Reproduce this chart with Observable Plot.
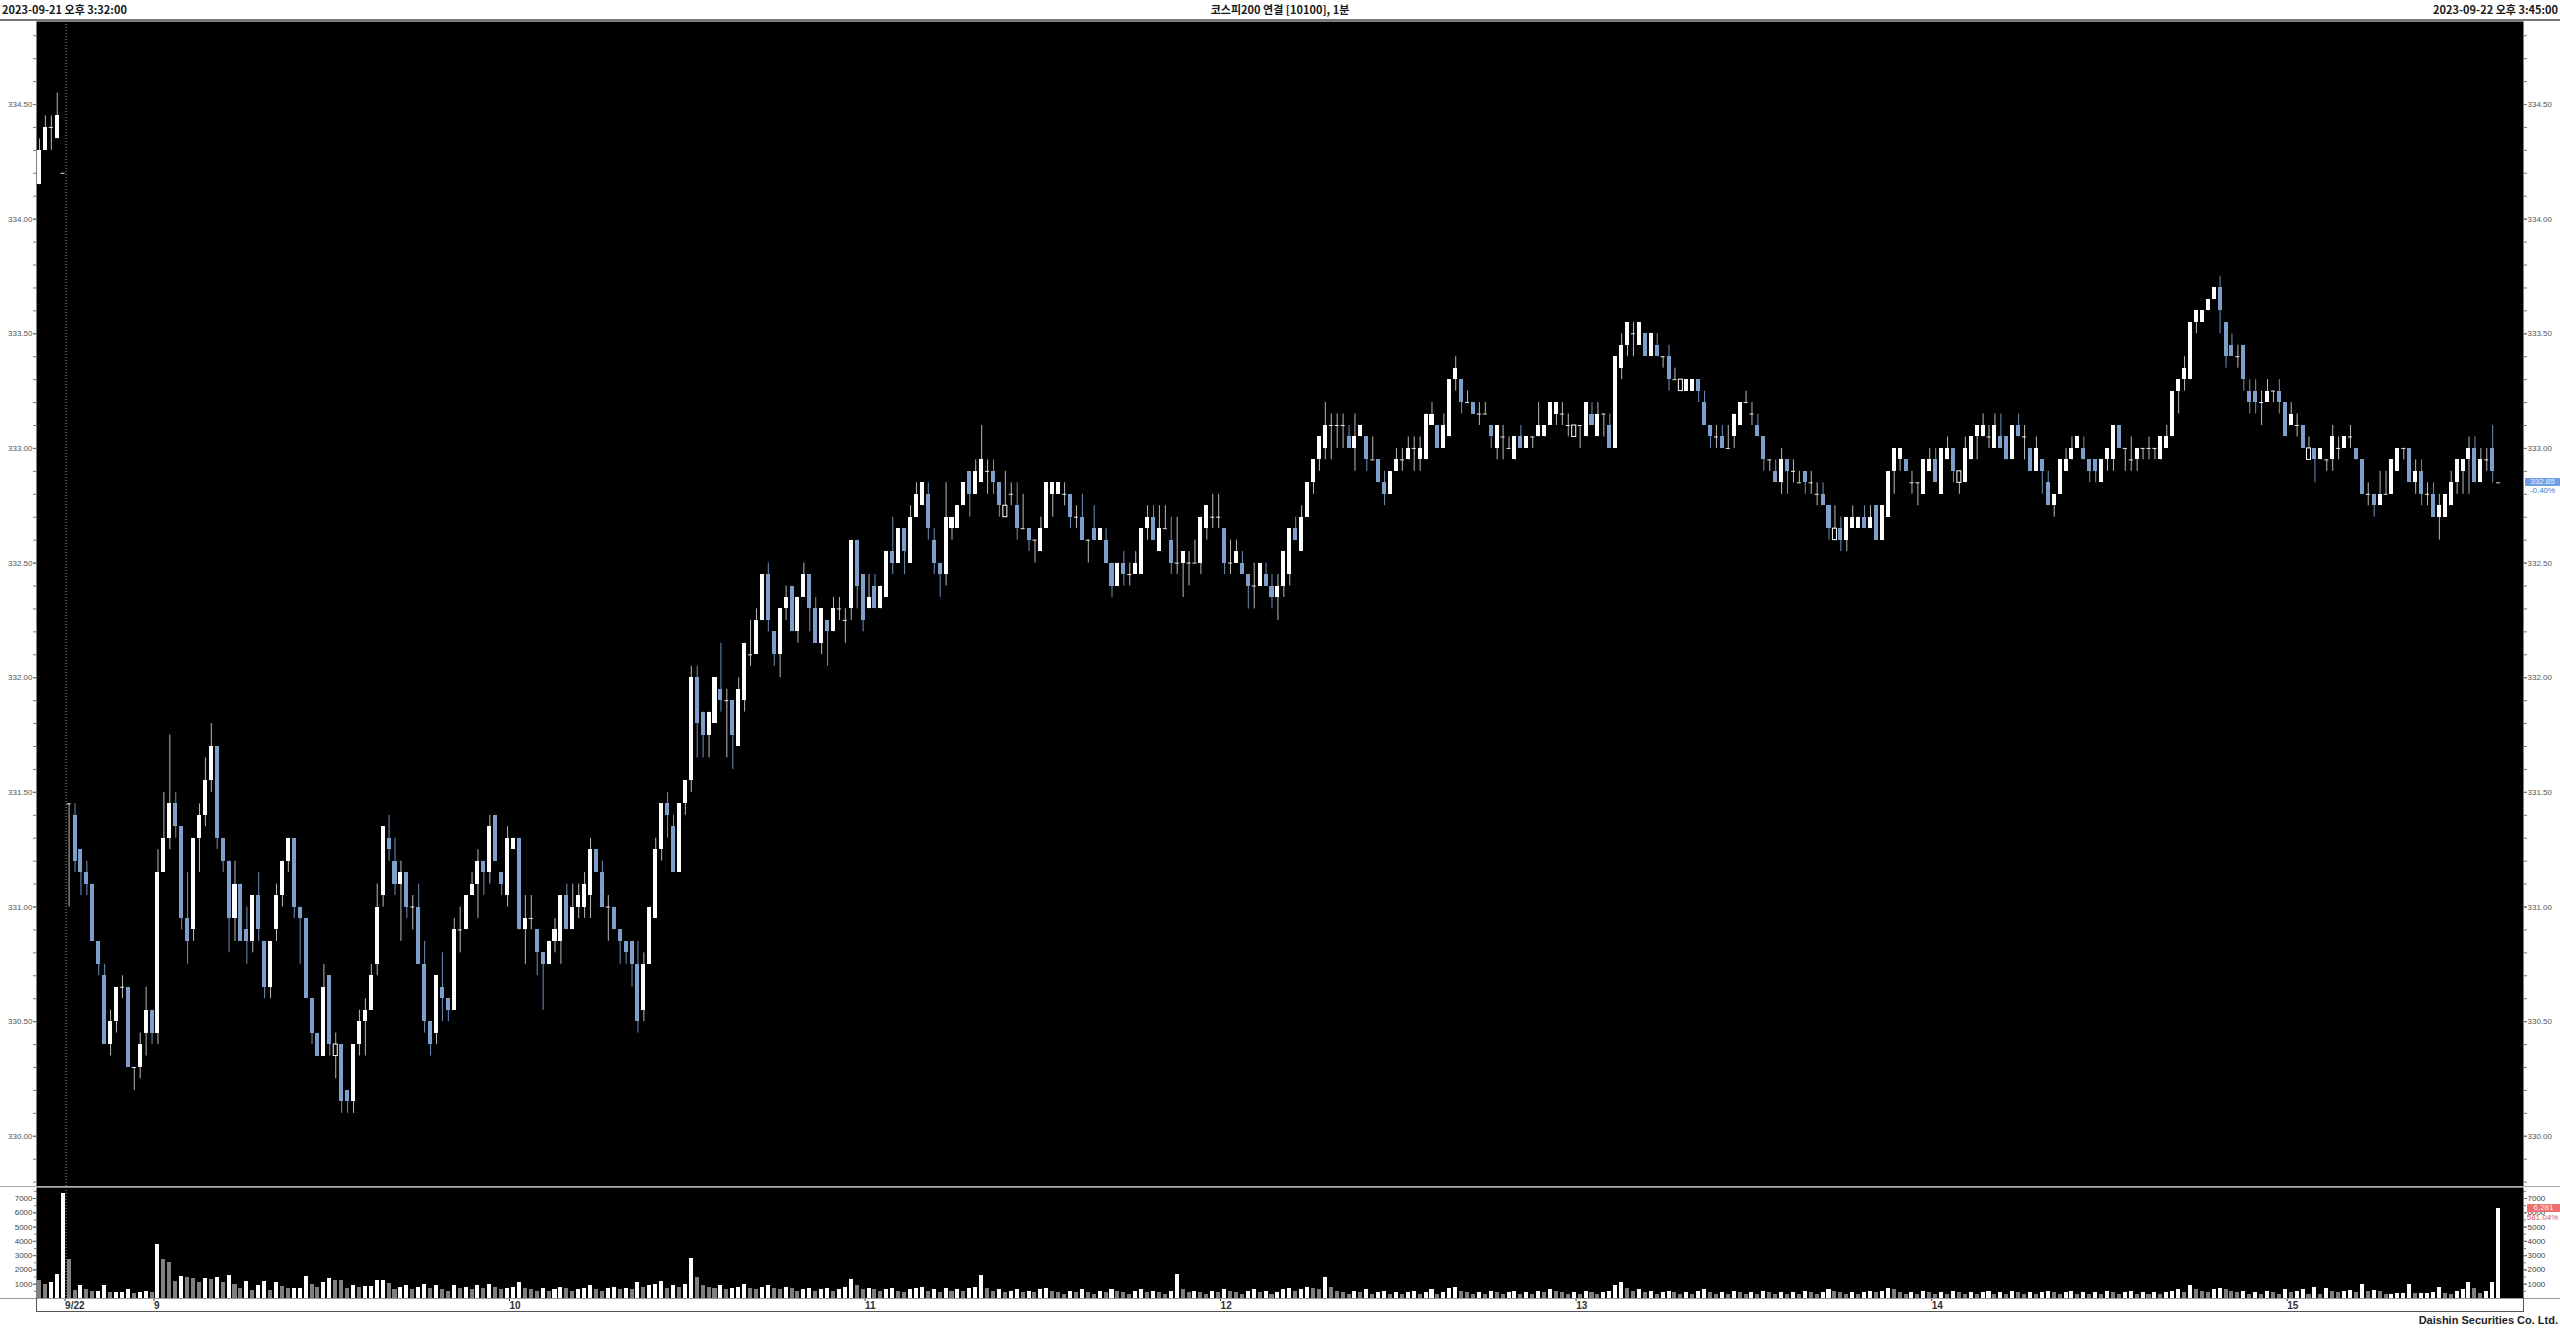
<!DOCTYPE html>
<html><head><meta charset="utf-8">
<script src="https://cdn.jsdelivr.net/npm/d3@7"></script>
<script src="https://cdn.jsdelivr.net/npm/@observablehq/plot@0.6"></script>
<style>
html,body{margin:0;padding:0;background:#fff;width:2560px;height:1328px;overflow:hidden;}
body{position:relative;font-family:"Liberation Sans",Arial,sans-serif;}
.hdr{position:absolute;top:3px;font-size:11px;font-weight:bold;color:#1a1a1a;font-family:"Noto Sans CJK KR","Liberation Sans",sans-serif;white-space:nowrap;line-height:12px;}
.badge{position:absolute;font-size:8px;line-height:8px;white-space:nowrap;font-family:"Liberation Sans",Arial,sans-serif;}
</style></head><body>
<script>
// ---------------- DATA ----------------
const headerLeft = "2023-09-21 오후 3:32:00";
const headerTitle = "코스피200 연결 [10100], 1분";
const headerRight = "2023-09-22 오후 3:45:00";
const footerText = "Daishin Securities Co. Ltd.";

const open = [
334.15,334.30,334.40,334.35,334.20,331.45,331.40,331.25,331.15,331.10,
330.85,330.70,330.40,330.50,330.65,330.65,330.30,330.30,330.45,330.55,
330.45,331.15,331.30,331.45,331.35,330.95,330.90,331.30,331.40,331.55,
331.70,331.30,331.20,330.95,331.10,330.90,330.85,331.05,330.85,330.65,
330.90,331.05,331.20,331.30,331.00,330.95,330.60,330.45,330.35,330.70,
330.35,330.40,330.20,330.15,330.40,330.50,330.55,330.75,331.05,331.30,
331.20,331.10,331.15,331.00,331.00,330.75,330.50,330.45,330.65,330.60,
330.55,330.90,330.90,331.05,331.10,331.20,331.15,331.40,331.15,331.05,
331.25,331.30,330.90,330.95,330.90,330.80,330.75,330.85,330.85,331.05,
330.90,331.00,331.00,331.05,331.25,331.15,331.00,331.00,330.90,330.85,
330.85,330.75,330.55,330.75,330.95,331.25,331.45,331.35,331.15,331.45,
331.55,332.00,331.85,331.75,331.80,331.95,331.90,331.90,331.70,331.90,
332.10,332.10,332.25,332.45,332.20,332.10,332.30,332.40,332.20,332.35,
332.45,332.30,332.15,332.25,332.20,332.30,332.25,332.30,332.60,332.45,
332.30,332.40,332.30,332.35,332.55,332.50,332.65,332.50,332.70,332.75,
332.80,332.60,332.50,332.45,332.65,332.65,332.75,332.90,332.80,332.85,
332.90,332.90,332.85,332.70,332.80,332.75,332.65,332.65,332.60,332.55,
332.65,332.80,332.80,332.80,332.80,332.70,332.70,332.60,332.65,332.60,
332.60,332.50,332.40,332.50,332.45,332.45,332.45,332.65,332.70,332.55,
332.65,332.60,332.50,332.50,332.50,332.50,332.50,332.65,332.70,332.70,
332.65,332.50,332.50,332.50,332.45,332.40,332.40,332.45,332.40,332.35,
332.40,332.45,332.65,332.55,332.70,332.85,332.95,333.00,333.10,333.10,
333.10,333.05,333.00,333.05,333.05,332.95,332.95,332.85,332.80,332.90,
332.95,332.95,333.00,332.95,332.95,333.10,333.10,333.00,333.05,333.30,
333.30,333.20,333.20,333.15,333.15,333.10,333.00,333.05,333.00,332.95,
333.05,333.00,333.05,333.05,333.05,333.10,333.15,333.15,333.10,333.05,
333.10,333.05,333.15,333.05,333.15,333.10,333.00,333.35,333.45,333.50,
333.45,333.50,333.40,333.45,333.40,333.40,333.30,333.25,333.25,333.25,
333.30,333.20,333.10,333.05,333.05,333.00,333.05,333.10,333.20,333.15,
333.10,333.05,332.95,332.90,332.85,332.95,332.90,332.85,332.90,332.85,
332.80,332.80,332.75,332.60,332.65,332.60,332.65,332.65,332.70,332.65,
332.75,332.60,332.70,332.90,332.95,332.95,332.85,332.85,332.80,332.90,
332.95,332.80,332.95,333.00,332.85,332.85,332.95,333.05,333.05,333.05,
333.00,333.05,333.05,332.95,333.10,333.05,333.00,332.90,332.95,332.85,
332.75,332.80,332.90,332.95,333.00,333.00,332.95,332.95,332.85,332.95,
332.95,333.10,333.00,332.95,332.95,333.00,333.00,333.00,332.95,333.00,
333.05,333.25,333.30,333.30,333.55,333.55,333.60,333.65,333.70,333.55,
333.45,333.40,333.45,333.25,333.25,333.20,333.20,333.25,333.25,333.20,
333.10,333.10,333.10,332.95,333.00,332.95,332.95,332.95,333.00,333.00,
333.05,333.00,332.95,332.80,332.80,332.75,332.80,332.80,332.90,333.00,
333.00,332.85,332.90,332.80,332.80,332.70,332.70,332.75,332.85,332.90,
332.95,333.00,332.85,332.95,333.00,332.85];

const high = [
334.35,334.45,334.45,334.55,334.20,331.45,331.45,331.25,331.20,331.10,
330.85,330.75,330.55,330.65,330.70,330.65,330.30,330.45,330.65,330.55,
331.25,331.50,331.75,331.50,331.35,331.15,331.30,331.45,331.65,331.80,
331.70,331.30,331.20,331.20,331.10,331.00,331.05,331.15,330.85,330.85,
331.10,331.20,331.30,331.30,331.00,330.95,330.60,330.45,330.75,330.70,
330.45,330.40,330.20,330.40,330.55,330.60,330.75,331.10,331.35,331.40,
331.30,331.20,331.15,331.05,331.10,330.85,330.50,330.70,330.80,330.60,
330.95,331.00,331.05,331.15,331.25,331.20,331.40,331.40,331.15,331.35,
331.30,331.30,331.05,331.05,330.90,330.80,330.85,330.95,331.05,331.10,
331.10,331.10,331.15,331.30,331.25,331.20,331.05,331.00,330.90,330.85,
330.85,330.85,330.80,331.00,331.30,331.45,331.50,331.40,331.45,331.55,
332.05,332.05,331.85,331.85,332.00,332.15,331.95,331.90,332.00,332.15,
332.25,332.30,332.45,332.50,332.20,332.30,332.40,332.40,332.35,332.50,
332.45,332.35,332.30,332.25,332.35,332.35,332.30,332.60,332.60,332.45,
332.45,332.45,332.40,332.55,332.70,332.65,332.65,332.75,332.85,332.85,
332.85,332.65,332.50,332.85,332.70,332.75,332.85,332.90,332.95,333.10,
332.95,332.95,332.85,332.90,332.85,332.85,332.80,332.65,332.60,332.70,
332.85,332.85,332.85,332.85,332.80,332.75,332.80,332.60,332.75,332.65,
332.65,332.50,332.50,332.55,332.50,332.55,332.65,332.75,332.75,332.75,
332.75,332.70,332.70,332.55,332.55,332.60,332.70,332.75,332.80,332.80,
332.65,332.60,332.60,332.55,332.45,332.50,332.50,332.50,332.45,332.45,
332.55,332.65,332.70,332.75,332.85,332.95,333.05,333.20,333.15,333.15,
333.15,333.10,333.15,333.10,333.05,333.05,332.95,332.90,332.90,333.00,
333.00,333.05,333.05,333.05,333.15,333.20,333.10,333.15,333.30,333.40,
333.30,333.25,333.20,333.20,333.20,333.10,333.10,333.10,333.05,333.05,
333.10,333.05,333.05,333.20,333.10,333.20,333.20,333.20,333.15,333.10,
333.10,333.20,333.20,333.20,333.15,333.15,333.40,333.50,333.55,333.55,
333.55,333.50,333.50,333.50,333.40,333.45,333.35,333.30,333.30,333.30,
333.30,333.25,333.10,333.10,333.10,333.10,333.15,333.20,333.25,333.20,
333.15,333.05,332.95,332.95,333.00,332.95,332.95,332.90,332.90,332.90,
332.85,332.85,332.75,332.75,332.70,332.70,332.75,332.70,332.75,332.75,
332.75,332.75,332.90,333.00,333.00,332.95,332.90,332.85,332.95,333.00,
333.00,333.00,333.05,333.00,332.90,333.05,333.05,333.10,333.15,333.10,
333.15,333.15,333.05,333.10,333.15,333.10,333.00,333.05,332.95,332.90,
332.80,332.95,333.00,333.05,333.05,333.05,332.95,332.95,332.95,333.00,
333.10,333.10,333.00,333.05,333.00,333.00,333.05,333.00,333.05,333.10,
333.25,333.30,333.40,333.55,333.60,333.60,333.65,333.70,333.75,333.55,
333.50,333.45,333.45,333.30,333.30,333.25,333.30,333.25,333.30,333.20,
333.20,333.15,333.10,333.05,333.00,333.00,332.95,333.10,333.05,333.05,
333.10,333.00,332.95,332.85,332.80,332.90,332.90,332.95,333.00,333.00,
333.00,332.95,332.95,332.85,332.85,332.80,332.80,332.90,332.95,332.95,
333.05,333.05,333.00,333.00,333.10,332.85];

const low = [
334.15,334.30,334.30,334.35,334.20,331.00,331.15,331.05,331.05,330.85,
330.70,330.40,330.35,330.45,330.60,330.30,330.20,330.25,330.35,330.40,
330.40,331.15,331.25,331.30,330.90,330.75,330.85,331.15,331.35,331.50,
331.25,331.15,330.80,330.85,330.85,330.75,330.80,330.85,330.60,330.60,
330.85,331.00,331.15,330.95,330.75,330.60,330.40,330.35,330.35,330.35,
330.25,330.10,330.10,330.10,330.35,330.35,330.55,330.70,331.00,331.20,
331.05,330.85,330.95,330.90,330.75,330.45,330.35,330.40,330.50,330.50,
330.55,330.80,330.90,331.05,330.95,331.05,331.10,331.20,331.05,331.00,
331.25,330.90,330.75,330.90,330.70,330.55,330.75,330.80,330.75,330.90,
330.90,330.95,330.95,330.95,331.15,331.00,330.85,330.90,330.75,330.75,
330.65,330.45,330.50,330.75,330.95,331.20,331.30,331.15,331.15,331.40,
331.50,331.65,331.65,331.65,331.80,331.85,331.65,331.60,331.70,331.85,
332.05,332.10,332.25,332.20,332.05,332.00,332.25,332.20,332.15,332.35,
332.20,332.15,332.10,332.05,332.20,332.25,332.15,332.25,332.30,332.20,
332.30,332.30,332.30,332.35,332.45,332.50,332.45,332.50,332.70,332.75,
332.60,332.45,332.35,332.40,332.60,332.65,332.75,332.70,332.80,332.85,
332.80,332.80,332.70,332.70,332.75,332.60,332.65,332.55,332.50,332.55,
332.65,332.70,332.80,332.75,332.65,332.65,332.60,332.50,332.60,332.60,
332.50,332.35,332.40,332.40,332.40,332.45,332.45,332.60,332.60,332.55,
332.65,332.45,332.45,332.35,332.40,332.50,332.45,332.60,332.65,332.65,
332.45,332.45,332.50,332.45,332.30,332.30,332.40,332.40,332.30,332.25,
332.35,332.40,332.60,332.55,332.70,332.80,332.90,332.95,332.95,333.00,
333.00,333.00,332.90,333.05,332.90,332.95,332.85,332.75,332.80,332.90,
332.90,332.95,332.90,332.90,332.95,333.10,333.00,333.00,333.05,333.25,
333.15,333.20,333.15,333.10,333.15,333.00,332.95,332.95,333.00,332.95,
333.00,333.00,333.00,333.05,333.05,333.10,333.10,333.10,333.05,333.05,
333.00,333.05,333.10,333.05,333.05,333.00,333.00,333.30,333.40,333.40,
333.45,333.40,333.40,333.40,333.35,333.25,333.30,333.25,333.25,333.25,
333.20,333.10,333.00,333.00,333.00,333.00,333.00,333.10,333.20,333.10,
333.05,332.90,332.90,332.85,332.80,332.80,332.85,332.85,332.80,332.80,
332.75,332.75,332.60,332.60,332.55,332.55,332.65,332.65,332.65,332.65,
332.60,332.60,332.70,332.80,332.90,332.90,332.80,332.75,332.80,332.90,
332.85,332.80,332.95,332.85,332.80,332.85,332.95,332.95,333.05,333.00,
333.00,333.00,332.95,332.95,333.05,332.95,332.90,332.90,332.80,332.75,
332.70,332.80,332.90,332.95,333.00,332.95,332.85,332.85,332.85,332.90,
332.90,333.00,332.90,332.90,332.90,332.95,332.95,332.95,332.95,333.00,
333.05,333.15,333.25,333.30,333.50,333.55,333.60,333.65,333.50,333.35,
333.40,333.35,333.25,333.15,333.15,333.10,333.20,333.20,333.15,333.05,
333.10,333.05,333.00,332.95,332.85,332.95,332.90,332.90,332.95,333.00,
333.00,332.95,332.80,332.75,332.70,332.75,332.80,332.80,332.90,332.95,
332.85,332.80,332.75,332.75,332.70,332.60,332.70,332.75,332.80,332.80,
332.80,332.85,332.85,332.90,332.85,332.85];

const close = [
334.30,334.40,334.40,334.45,334.20,331.45,331.20,331.15,331.10,330.85,
330.75,330.40,330.50,330.65,330.65,330.30,330.30,330.40,330.55,330.45,
331.15,331.30,331.45,331.35,330.95,330.85,331.30,331.40,331.55,331.70,
331.30,331.20,330.95,331.10,330.85,330.85,331.05,330.90,330.65,330.85,
331.05,331.20,331.30,331.00,330.95,330.60,330.45,330.35,330.65,330.40,
330.40,330.15,330.15,330.40,330.50,330.55,330.70,331.00,331.35,331.25,
331.10,331.15,331.00,331.00,330.75,330.50,330.40,330.70,330.60,330.55,
330.90,330.90,331.05,331.10,331.20,331.15,331.35,331.20,331.10,331.30,
331.30,330.90,330.95,330.95,330.80,330.75,330.85,330.90,331.05,330.90,
331.00,331.05,331.10,331.25,331.15,331.00,331.00,330.90,330.85,330.80,
330.75,330.50,330.75,331.00,331.25,331.45,331.40,331.15,331.45,331.55,
332.00,331.80,331.75,331.85,332.00,331.90,331.90,331.75,331.95,332.15,
332.10,332.25,332.45,332.25,332.10,332.30,332.35,332.20,332.35,332.45,
332.30,332.15,332.30,332.20,332.30,332.30,332.25,332.60,332.40,332.25,
332.35,332.30,332.40,332.55,332.50,332.65,332.55,332.70,332.80,332.85,
332.65,332.50,332.45,332.70,332.70,332.75,332.85,332.80,332.90,332.95,
332.90,332.85,332.75,332.75,332.80,332.65,332.65,332.60,332.60,332.65,
332.85,332.85,332.85,332.80,332.70,332.70,332.60,332.60,332.60,332.65,
332.50,332.40,332.50,332.45,332.45,332.50,332.65,332.70,332.60,332.65,
332.65,332.50,332.50,332.55,332.50,332.50,332.70,332.75,332.70,332.70,
332.50,332.50,332.55,332.45,332.40,332.40,332.50,332.40,332.35,332.40,
332.55,332.65,332.60,332.70,332.85,332.95,333.05,333.10,333.10,333.10,
333.10,333.00,333.05,333.10,332.95,332.95,332.85,332.80,332.90,332.95,
332.95,333.00,333.00,333.00,333.15,333.15,333.00,333.10,333.30,333.35,
333.20,333.20,333.15,333.15,333.15,333.05,333.10,333.05,333.00,333.05,
333.00,333.05,333.05,333.10,333.10,333.20,333.20,333.15,333.10,333.10,
333.10,333.20,333.10,333.15,333.15,333.00,333.40,333.45,333.55,333.50,
333.55,333.40,333.50,333.40,333.40,333.30,333.30,333.30,333.30,333.30,
333.25,333.10,333.05,333.05,333.00,333.00,333.15,333.20,333.20,333.15,
333.05,332.95,332.95,332.85,332.95,332.90,332.90,332.85,332.85,332.85,
332.80,332.75,332.65,332.65,332.60,332.70,332.70,332.70,332.65,332.70,
332.60,332.75,332.90,333.00,333.00,332.90,332.85,332.85,332.95,332.95,
332.85,333.00,333.00,332.90,332.90,333.00,333.05,333.10,333.10,333.05,
333.10,333.00,332.95,333.10,333.05,333.05,332.90,333.00,332.90,332.75,
332.80,332.95,332.95,333.00,333.05,332.95,332.90,332.90,332.95,333.00,
333.10,333.00,333.00,332.95,333.00,333.00,333.00,333.00,333.05,333.05,
333.25,333.30,333.35,333.55,333.60,333.60,333.65,333.70,333.60,333.40,
333.40,333.40,333.30,333.20,333.20,333.20,333.25,333.25,333.20,333.05,
333.15,333.10,333.00,333.00,332.95,333.00,332.95,333.05,333.00,333.05,
333.05,332.95,332.80,332.80,332.75,332.80,332.80,332.95,333.00,333.00,
332.85,332.90,332.80,332.80,332.70,332.75,332.80,332.85,332.95,332.95,
333.00,332.85,332.95,332.95,332.90,332.85];

const volume = [
1250,980,1100,1700,7330,2720,580,930,600,500,
500,900,430,430,450,600,380,420,500,430,
3800,2720,2490,1210,1510,1470,1400,1120,1400,1350,
1490,1120,1580,1000,700,1190,580,930,1190,530,
1140,840,700,700,700,1510,950,790,1140,1400,
1280,1260,720,930,790,840,860,1280,1280,1070,
650,800,900,600,800,1000,700,900,600,500,
900,700,800,600,900,700,1000,800,600,700,
800,1100,700,600,500,700,500,600,800,700,
500,600,700,900,600,500,700,800,600,700,
600,1100,800,900,1000,1200,700,900,800,1000,
2800,1500,900,800,700,900,600,700,800,1000,
700,600,800,900,700,600,800,700,500,600,
700,500,600,700,500,600,800,1300,900,600,
700,600,500,600,700,500,400,600,700,800,
500,600,400,700,500,600,500,700,800,1600,
700,500,600,400,500,600,400,500,400,600,
700,500,400,300,500,400,600,400,300,500,
400,600,500,400,300,500,600,400,500,400,
300,500,1700,600,400,500,400,300,500,400,
600,500,400,300,500,600,400,500,300,400,
600,700,500,600,800,700,600,1500,800,500,
400,300,500,400,600,300,400,500,300,400,
300,400,500,300,400,600,300,400,700,800,
500,400,300,400,300,500,400,300,400,500,
300,400,300,500,400,600,500,400,300,400,
300,500,400,300,400,500,900,1100,700,500,
600,400,500,300,400,500,400,300,400,300,
500,600,400,300,400,300,500,400,300,400,
300,500,400,300,400,300,400,300,500,400,
300,400,600,500,400,300,400,300,400,500,
400,500,700,600,400,300,400,300,500,400,
300,400,300,500,400,300,400,300,400,500,
300,400,300,500,400,300,400,300,400,500,
400,300,400,500,300,400,300,400,300,500,
400,300,400,500,300,400,300,400,300,400,
500,600,400,900,600,500,400,600,700,600,
500,400,500,300,400,300,500,400,300,600,
400,500,630,300,740,300,700,465,420,490,
535,420,1000,510,560,465,255,300,370,370,
1000,370,370,370,440,790,370,300,465,650,
1140,720,350,510,1120,6281];

// hollow (outlined) up-candles seen in the chart
const hollowIdx = [50,163,259,277,303,324,383];

// axis labels
const priceTickLabels = ["330.00","330.50","331.00","331.50","332.00","332.50","333.00","333.50","334.00","334.50"];
const volumeTickLabels = ["1000","2000","3000","4000","5000","6000","7000"];
const timeTickIndex = [5,20,80,140,200,260,320,380];
const timeTickLabels = ["9/22","9","10","11","12","13","14","15"];
const dayBreakIndex = 4.5;   // between 9/21 and 9/22 sessions
const lastPriceLabel = "332.85";
const lastPriceChange = "-0.40%";
const lastVolumeLabel = "6,281";
const lastVolumeChange = "581.04%";

// ---------------- SCALES / LAYOUT ----------------
const W = 2560;
const priceDomain = [329.781, 334.862];
const volDomain = [0, 7770];
const xDomain = [-0.5, 419.2];
const BW = 0.34;
const UP = "#ffffff", DOWN = "#7d9fcc", VUP = "#ffffff", VDOWN = "#808080";

const candles = open.map((o, i) => ({i, o, h: high[i], l: low[i], c: close[i], v: volume[i],
  hollow: hollowIdx.includes(i)}));
const bodies = candles.filter(d => d.c !== d.o && !d.hollow);
const hollows = candles.filter(d => d.c !== d.o && d.hollow);
const dojis = candles.filter(d => d.c === d.o);
const vols = candles.map((d, i) => ({...d, vc: (i > 0 && d.v >= candles[i-1].v) ? VUP : VDOWN}));

function el(tag, css, text){ const e=document.createElement(tag); e.style.cssText=css; if(text!==undefined) e.textContent=text; document.body.appendChild(e); return e; }

// header
const hl = el("div","left:2px;", headerLeft); hl.className="hdr";
const ht = el("div","left:0;width:"+W+"px;text-align:center;", headerTitle); ht.className="hdr";
const hr = el("div","right:2px;", headerRight); hr.className="hdr";
el("div","position:absolute;left:0;top:19px;width:"+W+"px;height:2px;background:#777;");

const fontFam = "Liberation Sans, Arial, sans-serif";
const minorPrice = d3.range(3298, 3349).map(d => d / 10);
const majorPrice = priceTickLabels.map(Number);

// price panel
const pricePlot = Plot.plot({
  width: W, height: 1165,
  marginLeft: 36, marginRight: 37, marginTop: 0, marginBottom: 0,
  x: {domain: xDomain, axis: null, label: null},
  y: {domain: priceDomain, axis: null, label: null},
  style: {background: "transparent", overflow: "visible", fontFamily: fontFam},
  marks: [
    Plot.frame({fill: "black", stroke: "none"}),
    Plot.ruleX([dayBreakIndex], {x: d => d, stroke: "#9a9a9a", strokeDasharray: "1,2", strokeWidth: 1}),
    Plot.ruleX(candles, {x: "i", y1: "l", y2: "h", stroke: d => d.c < d.o ? "#6f8fbb" : "#b8b8b8", strokeWidth: 1}),
    Plot.rect(bodies, {x1: d => d.i - BW, x2: d => d.i + BW, y1: d => Math.min(d.o, d.c), y2: d => Math.max(d.o, d.c),
      fill: d => d.c > d.o ? UP : DOWN, shapeRendering: "crispEdges"}),
    Plot.rect(hollows, {x1: d => d.i - BW, x2: d => d.i + BW, y1: d => Math.min(d.o, d.c), y2: d => Math.max(d.o, d.c),
      fill: "black", stroke: UP, strokeWidth: 1}),
    Plot.ruleY(dojis, {x1: d => d.i - BW, x2: d => d.i + BW, y: "o", stroke: "#e8e8e8", strokeWidth: 1}),
    Plot.axisY({anchor: "left", label: null, ticks: majorPrice, tickFormat: d => d.toFixed(2), tickSize: 3, tickPadding: 1, fontSize: 8, color: "#555"}),
    Plot.axisY({anchor: "left", label: null, ticks: minorPrice, tickFormat: () => "", tickSize: 3, color: "#777"}),
    Plot.axisY({anchor: "right", label: null, ticks: majorPrice, tickFormat: d => d.toFixed(2), tickSize: 3, tickPadding: 1, fontSize: 8, color: "#555"}),
    Plot.axisY({anchor: "right", label: null, ticks: minorPrice, tickFormat: () => "", tickSize: 3, color: "#777"})
  ]
});
pricePlot.style.position = "absolute"; pricePlot.style.left = "0px"; pricePlot.style.top = "21px";
document.body.appendChild(pricePlot);

// separator
el("div","position:absolute;left:0;top:1186px;width:"+W+"px;height:1px;background:#aaa;");

// volume panel
const labelMap = new Map(timeTickIndex.map((d, k) => [d, timeTickLabels[k]]));
const minorVol = d3.range(500, 7800, 500);
const majorVol = volumeTickLabels.map(Number);
const volPlot = Plot.plot({
  width: W, height: 124,
  marginLeft: 36, marginRight: 37, marginTop: 0, marginBottom: 13,
  x: {domain: xDomain, axis: null, label: null},
  y: {domain: volDomain, axis: null, label: null},
  style: {background: "transparent", overflow: "visible", fontFamily: fontFam},
  marks: [
    Plot.frame({fill: "black", stroke: "none"}),
    Plot.ruleX([dayBreakIndex], {x: d => d, stroke: "#9a9a9a", strokeDasharray: "1,2"}),
    Plot.rect(vols, {x1: d => d.i - BW, x2: d => d.i + BW, y1: 0, y2: "v", fill: "vc", shapeRendering: "crispEdges"}),
    Plot.axisY({anchor: "left", label: null, ticks: majorVol, tickFormat: d => String(d), tickSize: 3, tickPadding: 1, fontSize: 8, color: "#444"}),
    Plot.axisY({anchor: "left", label: null, ticks: minorVol, tickFormat: () => "", tickSize: 2, color: "#777"}),
    Plot.axisY({anchor: "right", label: null, ticks: majorVol, tickFormat: d => String(d), tickSize: 3, tickPadding: 1, fontSize: 8, color: "#444"}),
    Plot.axisY({anchor: "right", label: null, ticks: minorVol, tickFormat: () => "", tickSize: 2, color: "#777"}),
    Plot.axisX({anchor: "bottom", label: null, ticks: timeTickIndex, tickFormat: d => labelMap.get(d), tickSize: 3, tickPadding: 0,
      fontSize: 10, fontWeight: "bold", textAnchor: "start", dx: -4, color: "#333"})
  ]
});
volPlot.style.position = "absolute"; volPlot.style.left = "0px"; volPlot.style.top = "1187px";
document.body.appendChild(volPlot);

// bottom frame lines
el("div","position:absolute;left:0;top:1298px;width:"+W+"px;height:1px;background:#999;");
el("div","position:absolute;left:36px;top:1298px;width:1px;height:14px;background:#555;");
el("div","position:absolute;left:2523px;top:1298px;width:1px;height:14px;background:#555;");
el("div","position:absolute;left:36px;top:1311px;width:2488px;height:1px;background:#555;");

// current value badges positioned through the plot scales
const yP = pricePlot.scale("y").apply(Number(lastPriceLabel)) + 21;
const b1 = el("div","left:2525px;top:"+(yP-4)+"px;width:35px;height:8px;background:#6fa0e6;color:#e8f0ff;text-align:center;", lastPriceLabel); b1.className="badge";
const b2 = el("div","left:2525px;top:"+(yP+5)+"px;width:35px;color:#3a78d0;text-align:center;", lastPriceChange); b2.className="badge";
const yV = volPlot.scale("y").apply(6281) + 1187;
const b3 = el("div","left:2527px;top:"+(yV-4)+"px;width:33px;height:8px;background:#f07070;color:#ffe8e8;text-align:center;", lastVolumeLabel); b3.className="badge";
const b4 = el("div","left:2525px;top:"+(yV+6)+"px;width:35px;color:#e05050;text-align:center;", lastVolumeChange); b4.className="badge";

// footer
el("div","position:absolute;right:2px;top:1314px;font-size:11px;font-weight:bold;color:#222;white-space:nowrap;", footerText);
</script>
</body></html>
